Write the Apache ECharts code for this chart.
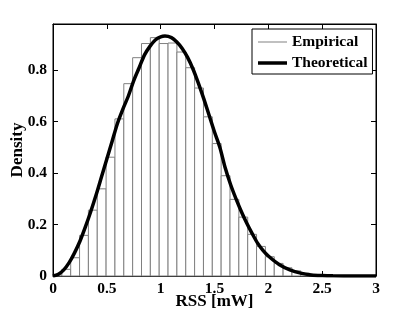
<!DOCTYPE html>
<html>
<head>
<meta charset="utf-8">
<script src="https://cdn.jsdelivr.net/npm/echarts@6/dist/echarts.min.js"></script>
<style>html,body{margin:0;padding:0;background:#fff}#c{width:415px;height:313px}</style>
</head>
<body>
<div id="c"></div>
<script>
// Histogram (Empirical): regular bins starting at 0
var binWidth = 0.0822;
var binDensity = [0.004, 0.026, 0.071, 0.158, 0.256, 0.339, 0.462, 0.611, 0.748, 0.849,
  0.904, 0.927, 0.904, 0.906, 0.871, 0.810, 0.731, 0.619, 0.515, 0.390,
  0.298, 0.229, 0.162, 0.115, 0.075, 0.049, 0.032, 0.020, 0.011, 0.006,
  0.003, 0.002, 0.001, 0.001, 0.0005, 0.0003];
// Theoretical curve
var curveX = [0, 0.05, 0.1, 0.15, 0.2, 0.25, 0.3, 0.35, 0.4, 0.45, 0.5, 0.55, 0.6, 0.65, 0.7, 0.75,
  0.8, 0.85, 0.9, 0.95, 1.0, 1.04, 1.1, 1.15, 1.2, 1.25, 1.3, 1.35, 1.4, 1.45, 1.5, 1.55,
  1.6, 1.65, 1.7, 1.75, 1.8, 1.85, 1.9, 1.95, 2.0, 2.1, 2.2, 2.3, 2.4, 2.5, 2.6, 2.8, 3.0];
var curveY = [0, 0.007, 0.024, 0.052, 0.09, 0.135, 0.19, 0.25, 0.315, 0.385, 0.455, 0.525, 0.595, 0.65, 0.70, 0.76,
  0.81, 0.86, 0.893, 0.918, 0.93, 0.933, 0.927, 0.91, 0.885, 0.85, 0.805, 0.75, 0.69, 0.625, 0.56, 0.5,
  0.42, 0.355, 0.3, 0.25, 0.205, 0.165, 0.128, 0.1, 0.078, 0.045, 0.024, 0.011, 0.004, 0.0015, 0.0005, 0, 0];
var xTicks = { min: 0, max: 3, interval: 0.5 };
var yTicks = { min: 0, max: 0.98, interval: 0.2 };
var seriesNames = ['Empirical', 'Theoretical'];

var histData = binDensity.map(function (h, i) { return [i * binWidth, (i + 1) * binWidth, h]; });
var curveData = curveX.map(function (x, i) { return [x, curveY[i]]; });

var FONT = '"Liberation Serif", "Times New Roman", serif';
var chart = echarts.init(document.getElementById('c'));
var lineCfg = { show: true, onZero: false, lineStyle: { color: '#000', width: 1 } };
var tickCfg = { show: true, inside: true, length: 5, lineStyle: { color: '#000', width: 1 } };
chart.setOption({
  animation: false,
  backgroundColor: '#fff',
  grid: { left: 53, right: 39, top: 24, bottom: 37, containLabel: false, outerBoundsMode: 'none',
    show: true, borderColor: '#000', borderWidth: 1, backgroundColor: 'transparent' },
  legend: {
    left: 252, top: 29,
    orient: 'vertical',
    backgroundColor: '#fff',
    borderColor: '#000', borderWidth: 1, borderRadius: 0,
    padding: [5, 5, 3, 6],
    itemWidth: 29, itemHeight: 14, itemGap: 5,
    textStyle: { fontFamily: FONT, fontWeight: 'bold', fontSize: 15.5, color: '#000' },
    data: [
      { name: seriesNames[0], icon: 'path://M0,0L29,0L29,1L0,1Z', itemStyle: { color: '#808080', borderWidth: 0 } },
      { name: seriesNames[1], icon: 'path://M0,0L29,0L29,3.5L0,3.5Z', itemStyle: { color: '#000', borderWidth: 0 } }
    ]
  },
  xAxis: [
    {
      type: 'value', show: true, gridIndex: 0, position: 'bottom',
      min: xTicks.min, max: xTicks.max, interval: xTicks.interval,
      name: 'RSS [mW]', nameLocation: 'middle', nameGap: 17, nameMoveOverlap: false,
      nameTextStyle: { fontFamily: FONT, fontWeight: 'bold', fontSize: 17, color: '#000' },
      axisLine: lineCfg, axisTick: tickCfg, splitLine: { show: false },
      axisLabel: { margin: 5, fontFamily: FONT, fontWeight: 'bold', fontSize: 15.5, color: '#000' }
    },
    {
      type: 'value', show: true, gridIndex: 0, position: 'top',
      min: xTicks.min, max: xTicks.max, interval: xTicks.interval,
      axisLine: lineCfg, axisTick: tickCfg, splitLine: { show: false },
      axisLabel: { show: false }
    }
  ],
  yAxis: [
    {
      type: 'value', show: true, gridIndex: 0, position: 'left',
      min: yTicks.min, max: yTicks.max, interval: yTicks.interval,
      name: 'Density', nameLocation: 'middle', nameGap: 27, nameMoveOverlap: false,
      nameTextStyle: { fontFamily: FONT, fontWeight: 'bold', fontSize: 17, color: '#000' },
      axisLine: lineCfg, axisTick: tickCfg, splitLine: { show: false },
      axisLabel: { margin: 6, showMaxLabel: false, fontFamily: FONT, fontWeight: 'bold', fontSize: 15.5, color: '#000' }
    },
    {
      type: 'value', show: true, gridIndex: 0, position: 'right',
      min: yTicks.min, max: yTicks.max, interval: yTicks.interval,
      axisLine: lineCfg, axisTick: tickCfg, splitLine: { show: false },
      axisLabel: { show: false }
    }
  ],
  series: [
    {
      name: seriesNames[0],
      type: 'custom',
      xAxisIndex: 0, yAxisIndex: 0,
      data: histData,
      encode: { x: [0, 1], y: 2 },
      itemStyle: { color: '#808080' },
      renderItem: function (params, api) {
        var p0 = api.coord([api.value(0), api.value(2)]);
        var p1 = api.coord([api.value(1), 0]);
        return {
          type: 'rect',
          shape: { x: p0[0], y: p0[1], width: p1[0] - p0[0], height: p1[1] - p0[1] },
          style: { fill: '#fff', stroke: '#808080', lineWidth: 1 }
        };
      },
      z: 2
    },
    {
      name: seriesNames[1],
      type: 'line',
      xAxisIndex: 1, yAxisIndex: 1,
      data: curveData,
      smooth: 0.3,
      symbol: 'none',
      lineStyle: { color: '#000', width: 3.5 },
      itemStyle: { color: '#000' },
      z: 3
    }
  ]
});
</script>
</body>
</html>
